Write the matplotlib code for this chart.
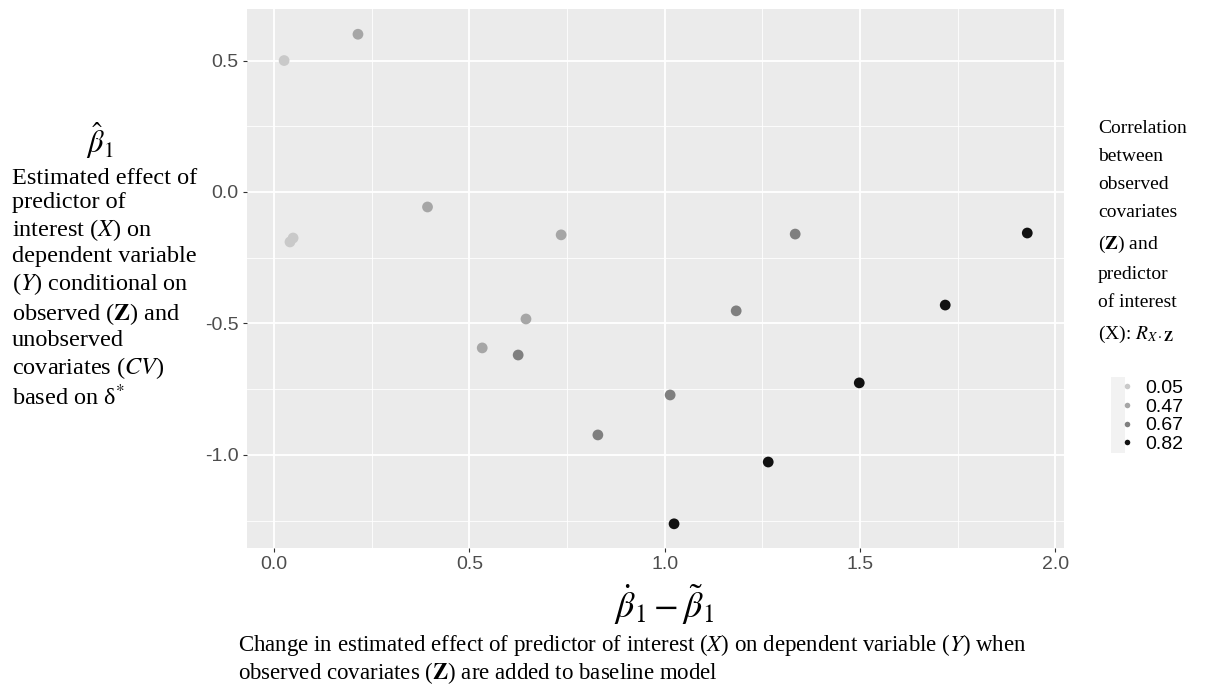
import matplotlib
matplotlib.use("Agg")
import matplotlib.pyplot as plt
from matplotlib.lines import Line2D
from matplotlib.patches import Rectangle

# datos, agrupados por R_{X·Z}
grupos = ["0.05", "0.47", "0.67", "0.82"]
colores = ["#c9c9c9", "#a6a6a6", "#7f7f7f", "#111111"]

x_005 = [0.026, 0.041, 0.049]
y_005 = [0.500, -0.190, -0.175]

x_047 = [0.215, 0.393, 0.735, 0.533, 0.645]
y_047 = [0.600, -0.057, -0.163, -0.593, -0.483]

x_067 = [0.625, 1.014, 0.829, 1.334, 1.183]
y_067 = [-0.620, -0.772, -0.924, -0.160, -0.452]

x_082 = [1.024, 1.928, 1.718, 1.498, 1.265]
y_082 = [-1.262, -0.156, -0.430, -0.726, -1.027]

xs = [x_005, x_047, x_067, x_082]
ys = [y_005, y_047, y_067, y_082]

x_ticks = [0.0, 0.5, 1.0, 1.5, 2.0]
x_ticklabels = ["0.0", "0.5", "1.0", "1.5", "2.0"]
y_ticks = [-1.0, -0.5, 0.0, 0.5]
y_ticklabels = ["-1.0", "-0.5", "0.0", "0.5"]

serif = "Liberation Serif"
sans = "Liberation Sans"

fig = plt.figure(figsize=(12.17, 6.86), dpi=100)
ax = fig.add_axes([247 / 1217, 1 - 548 / 686, (1064 - 247) / 1217, (548 - 9) / 686])

ax.set_facecolor("#ebebeb")
for s in ax.spines.values():
    s.set_visible(False)

# puntos
for xv, yv, c in zip(xs, ys, colores):
    ax.scatter(xv, yv, s=60, color=c, edgecolors="none", zorder=3)

ax.set_xlim(-0.069, 2.022)
ax.set_ylim(-1.354, 0.696)

ax.set_xticks(x_ticks)
ax.set_xticklabels(x_ticklabels)
ax.set_yticks(y_ticks)
ax.set_yticklabels(y_ticklabels)
ax.set_xticks([0.25, 0.75, 1.25, 1.75], minor=True)
ax.set_yticks([-1.25, -0.75, -0.25, 0.25], minor=True)

ax.grid(True, which="major", color="white", linewidth=1.3)
ax.grid(True, which="minor", color="white", linewidth=0.6)
ax.set_axisbelow(True)
ax.tick_params(which="major", length=3, color="#333333", labelcolor="#4d4d4d",
               labelsize=14, pad=3)
ax.tick_params(which="minor", length=0)
for lab in ax.get_xticklabels() + ax.get_yticklabels():
    lab.set_fontfamily(sans)

# etiqueta del eje y (texto a la izquierda)
fig.text(100 / 1217, 1 - 141 / 686, r"$\hat{\beta}_1$", ha="center", va="center",
         fontsize=22, math_fontfamily="stix")
texto_y = ("Estimated effect of\n"
           "predictor of\n"
           "interest ($X$) on\n"
           "dependent variable\n"
           "($Y$) conditional on\n"
           r"observed ($\mathbf{Z}$) and" "\n"
           "unobserved\n"
           "covariates ($CV$)\n"
           r"based on δ$^{*}$")
fig.text(12 / 1217, 1 - 168 / 686, texto_y, ha="left", va="top", fontsize=17.5,
         family=serif, math_fontfamily="stix", linespacing=1.2)

# etiqueta del eje x
fig.text(664 / 1217, 1 - 605 / 686, r"$\dot{\beta}_1-\tilde{\beta}_1$", ha="center",
         va="center", fontsize=26, math_fontfamily="stix")
texto_x = ("Change in estimated effect of predictor of interest ($X$) on dependent variable ($Y$) when\n"
           r"observed covariates ($\mathbf{Z}$) are added to baseline model")
fig.text(238 / 1217, 1 - 632 / 686, texto_x, ha="left", va="top", fontsize=16.5,
         family=serif, math_fontfamily="stix", linespacing=1.1)

# leyenda
titulo = ("Correlation\n"
          "between\n"
          "observed\n"
          "covariates\n"
          r"($\mathbf{Z}$) and" "\n"
          "predictor\n"
          "of interest\n"
          r"(X): $R_{X\cdot\mathbf{Z}}$")
fig.text(1098 / 1217, 1 - 120 / 686, titulo, ha="left", va="top", fontsize=14,
         family=serif, math_fontfamily="stix", linespacing=1.85)

# fondo gris de las claves
fig.patches.append(Rectangle((1111 / 1217, 1 - 453 / 686), 14 / 1217, 76 / 686,
                             transform=fig.transFigure, facecolor="#f2f2f2",
                             edgecolor="none", zorder=0))

handles = [Line2D([], [], marker="o", linestyle="none", markersize=4,
                  markerfacecolor=c, markeredgecolor="none") for c in colores]
leg = fig.legend(handles, grupos, loc="upper left",
                 bbox_to_anchor=(1106 / 1217, 1 - 366 / 686), frameon=False,
                 prop={"family": sans, "size": 14}, handlelength=0.8,
                 handletextpad=0.5, labelspacing=0.05, borderpad=0.2)

fig.savefig("out.png", dpi=100)
